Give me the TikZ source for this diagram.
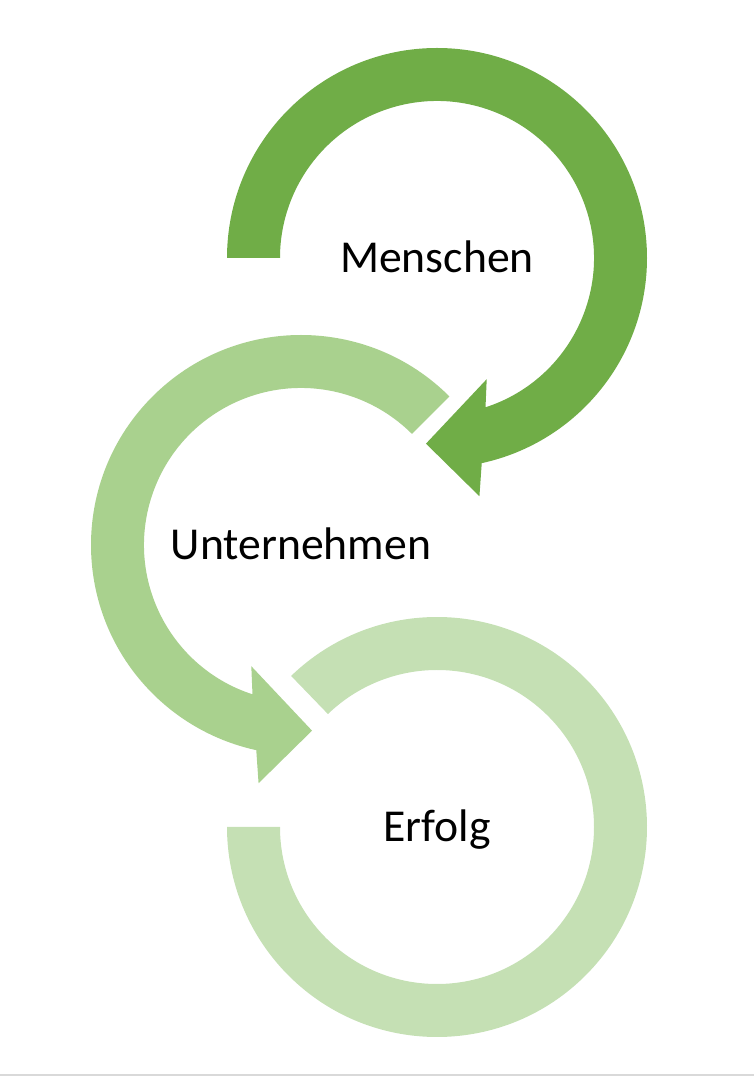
\documentclass[tikz,border=0pt]{standalone}
\usepackage{fontspec}
\setmainfont{Carlito}
\usetikzlibrary{calc}
\definecolor{greendark}{HTML}{70AD47}
\definecolor{greenmid}{HTML}{A9D18E}
\definecolor{greenlight}{HTML}{C5E0B4}

\begin{document}
\begin{tikzpicture}[x=0.02cm,y=0.02cm]
    \tikzstyle{every node}=[text=black,font=\fontsize{26}{31}\selectfont,inner sep=0pt,text height=16.4pt,text depth=0pt]
    \useasboundingbox (0,0) rectangle (754,1076);
    \fill[gray!30] (0,0) rectangle (754,2.5);
    \node (menschen)    at (437,818) {Menschen};
    \node (unternehmen) at (301,531) {Unternehmen};
    \node (erfolg)      at (437,249) {Erfolg};
    % arrow 1, clockwise
    \fill[greendark,shift={(menschen.center)}]
        (180:210) arc[start angle=180,end angle=-77.7,radius=210]
        -- (-79.9:242) -- (-93.4:186) -- (-67.7:131) -- (-72:157)
        arc[start angle=-72,end angle=180,radius=157] -- cycle;
    % arrow 2, counterclockwise
    \fill[greenmid,shift={(unternehmen.center)}]
        (45:210) arc[start angle=45,end angle=257.7,radius=210]
        -- (259.9:242) -- (273.4:186) -- (247.7:131) -- (252:157)
        arc[start angle=252,end angle=45,radius=157] -- cycle;
    % ring 3, no head
    \fill[greenlight,shift={(erfolg.center)}]
        (134:210) arc[start angle=134,end angle=-180,radius=210]
        -- (180:157)
        arc[start angle=-180,end angle=134,radius=157] -- cycle;
\end{tikzpicture}
\end{document}
